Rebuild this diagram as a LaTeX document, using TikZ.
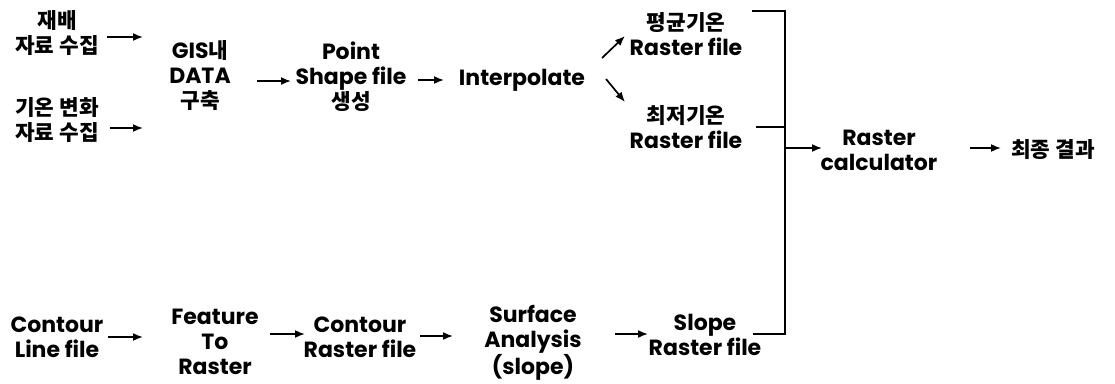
\documentclass[tikz,border=0pt]{standalone}
\usepackage{fontspec}
\setmainfont{Poppins}
\newfontfamily\kr{Noto Sans CJK KR}[Scale=0.97]
\usetikzlibrary{arrows.meta}
\begin{document}
\begin{tikzpicture}[x=1pt,y=-1pt,
  lbl/.style={align=center, inner sep=0pt, font=\fontsize{22}{25}\selectfont\bfseries},
  arr/.style={line width=1.7pt, -{Latex[length=10pt,width=8pt]}},
  brk/.style={line width=1.1pt}]
\useasboundingbox (0,0) rectangle (1115,383);
% nodes
\node[lbl] (jb)  at (57,33)  {{\kr 재배}\\{\kr 자료 수집}};
\node[lbl] (gh)  at (57,120) {{\kr 기온 변화}\\{\kr 자료 수집}};
\node[lbl] (gis) at (200,76) {GIS{\kr 내}\\DATA\\{\kr 구축}};
\node[lbl] (pt)  at (351,77) {Point\\Shape file\\{\kr 생성}};
\node[lbl] (ip)  at (522,80) {Interpolate};
\node[lbl] (avg) at (686,34) {{\kr 평균기온}\\Raster file};
\node[lbl] (mn)  at (686,127) {{\kr 최저기온}\\Raster file};
\node[lbl] (rc)  at (879,150) {Raster\\calculator};
\node[lbl] (fin) at (1053,150) {{\kr 최종 결과}};
\node[lbl] (cl)  at (57,337) {Contour\\Line file};
\node[lbl] (ftr) at (215,342) {Feature\\To\\Raster};
\node[lbl] (cr)  at (360,337) {Contour\\Raster file};
\node[lbl] (sa)  at (533,343) {Surface\\Analysis\\(slope)};
\node[lbl] (sl)  at (705,335) {Slope\\Raster file};
% bracket
\coordinate (bt) at (785,11);
\coordinate (bb) at (785,334);
\coordinate (bm) at (785,127);
\coordinate (ba) at (785,148);
\draw[brk] (752,11) -- (bt) -- (bb) -- (753,334);
\draw[brk] (756,127) -- (bm);
\draw[arr] (ba) -- (822,148);
% arrows
\draw[arr] (107,37) -- (143,37);
\draw[arr] (110,128) -- (143,128);
\draw[arr] (257,81) -- (291,81);
\draw[arr] (418,80) -- (444,80);
\draw[arr] (602,58) -- (625,36);
\draw[arr] (606,79) -- (625,102);
\draw[arr] (970,148) -- (1001,148);
\draw[arr] (108,337) -- (143,337);
\draw[arr] (270,334) -- (305,334);
\draw[arr] (420,336) -- (453,336);
\draw[arr] (615,334) -- (648,334);
\end{tikzpicture}
\end{document}
